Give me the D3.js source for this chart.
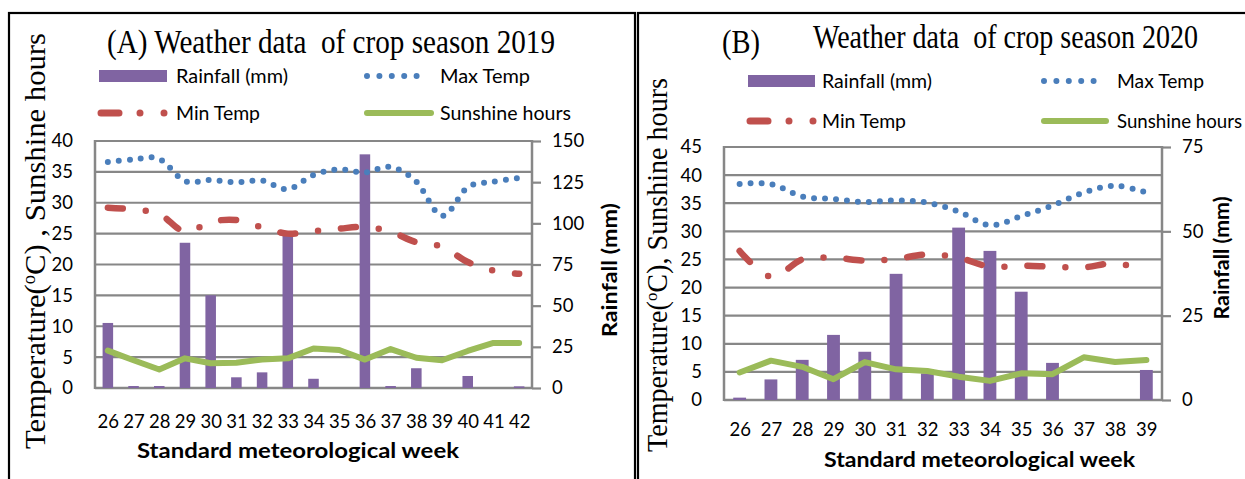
<!DOCTYPE html>
<html>
<head>
<meta charset="utf-8">
<script src="https://cdn.jsdelivr.net/npm/d3@7"></script>
<style>
  body { margin: 0; background: #fff; }
  svg { display: block; }
  text { white-space: pre; }
</style>
</head>
<body>
<script>
// ---- data ----
// (A) crop season 2019
var weeksA = [26, 27, 28, 29, 30, 31, 32, 33, 34, 35, 36, 37, 38, 39, 40, 41, 42];
var rainA  = [39.5, 1.2, 1.2, 88.2, 56.3, 6.5, 9.5, 92.9, 5.6, 0, 141.9, 1.2, 12.0, 0, 7.3, 0, 1.0];
var maxA   = [36.6, 37.0, 37.1, 33.5, 33.7, 33.3, 33.6, 32.2, 34.5, 35.4, 34.9, 35.8, 33.4, 27.9, 32.5, 33.4, 34.0];
var minA   = [29.2, 28.9, 28.2, 25.3, 26.9, 27.2, 26.0, 25.0, 25.4, 25.8, 26.1, 25.3, 23.6, 22.9, 20.4, 19.0, 18.5];
var sunA   = [6.05, 4.5, 3.0, 4.8, 4.0, 4.1, 4.6, 4.8, 6.4, 6.15, 4.6, 6.3, 4.9, 4.5, 6.0, 7.3, 7.3];
var tempTicksA = [0, 5, 10, 15, 20, 25, 30, 35, 40];
var rainTicksA = [0, 25, 50, 75, 100, 125, 150];

// (B) crop season 2020
var weeksB = [26, 27, 28, 29, 30, 31, 32, 33, 34, 35, 36, 37, 38, 39];
var rainB  = [0.7, 6.1, 11.9, 19.3, 14.3, 37.4, 7.9, 51.1, 44.2, 32.1, 11.0, 0, 0, 8.9];
var maxB   = [38.4, 38.4, 36.2, 35.75, 35.2, 35.5, 35.1, 33.5, 31.1, 32.7, 34.6, 36.9, 38.1, 36.9];
var minB   = [26.5, 21.9, 25.0, 25.3, 24.8, 25.1, 25.9, 25.3, 23.7, 23.9, 23.7, 23.6, 24.3, 23.0];
var sunB   = [4.9, 7.0, 5.9, 3.7, 6.75, 5.45, 5.15, 4.15, 3.4, 4.75, 4.6, 7.6, 6.75, 7.1];
var tempTicksB = [0, 5, 10, 15, 20, 25, 30, 35, 40, 45];
var rainTicksB = [0, 25, 50, 75];

var purple = "#8064a2", blue = "#4a7ebb", red = "#c0504d", green = "#9bbb59", grid = "#878787";
var sans = "Lato, 'Open Sans', sans-serif", serif = "'Liberation Serif', 'Times New Roman', serif";

var svg = d3.select("body").append("svg")
    .attr("width", 1245)
    .attr("height", 479);

svg.append("rect").attr("width", 1245).attr("height", 479).attr("fill", "#fff");

// frames around the two panels
svg.append("rect").attr("x", 9).attr("y", 13).attr("width", 626).attr("height", 490)
    .attr("fill", "none").attr("stroke", "#000").attr("stroke-width", 2.2);
svg.append("rect").attr("x", 638).attr("y", 13).attr("width", 630).attr("height", 490)
    .attr("fill", "none").attr("stroke", "#000").attr("stroke-width", 2.2);

var minDash = "15 23 0 23";

function drawPanel(p) {
  var g = svg.append("g");

  var x = d3.scalePoint().domain(p.weeks).range([p.left, p.right]).padding(0.5);
  var step = x.step();
  var yT = d3.scaleLinear().domain([0, p.tMax]).range([p.bottom, p.top]);
  var yR = d3.scaleLinear().domain([0, p.rMax]).range([p.bottom, p.top]);

  // horizontal gridlines (temperature axis)
  g.append("g").selectAll("line")
    .data(p.tTicks)
    .join("line")
      .attr("x1", p.left).attr("x2", p.right)
      .attr("y1", function(d) { return yT(d); })
      .attr("y2", function(d) { return yT(d); })
      .attr("stroke", grid).attr("stroke-width", 2.2);

  // left axis
  var ax = g.append("g")
      .attr("transform", "translate(" + p.left + ",0)")
      .call(d3.axisLeft(yT).tickValues(p.tTicks).tickSize(0).tickPadding(p.lPad));
  ax.select(".domain").remove();
  ax.selectAll("text").attr("font-family", sans).attr("font-size", 18.5).attr("fill", "#000");
  g.append("line").attr("x1", p.left).attr("x2", p.left).attr("y1", p.top - 1).attr("y2", p.bottom + 1)
      .attr("stroke", grid).attr("stroke-width", 2.5);

  // right axis (rainfall)
  var ar = g.append("g")
      .attr("transform", "translate(" + p.right + ",0)")
      .call(d3.axisRight(yR).tickValues(p.rTicks).tickSize(9).tickPadding(11));
  ar.select(".domain").remove();
  ar.selectAll("line").attr("stroke", grid).attr("stroke-width", 2.2);
  ar.selectAll("text").attr("font-family", sans).attr("font-size", 18.5).attr("fill", "#000");
  g.append("line").attr("x1", p.right).attr("x2", p.right).attr("y1", p.top - 1).attr("y2", p.bottom + 1)
      .attr("stroke", grid).attr("stroke-width", 2.5);

  // bottom axis labels
  var ab = g.append("g")
      .attr("transform", "translate(0," + p.bottom + ")")
      .call(d3.axisBottom(x).tickSize(0).tickPadding(p.bPad));
  ab.select(".domain").remove();
  ab.selectAll("text").attr("font-family", sans).attr("font-size", 18.5).attr("fill", "#000");
  g.append("line").attr("x1", p.left).attr("x2", p.right).attr("y1", p.bottom).attr("y2", p.bottom)
      .attr("stroke", grid).attr("stroke-width", 2.5);

  // rainfall bars
  var bw = step * 0.41;
  g.append("g").selectAll("rect")
    .data(p.weeks)
    .join("rect")
      .attr("x", function(d) { return x(d) - bw / 2; })
      .attr("width", bw)
      .attr("y", function(d, i) { return yR(p.rain[i]); })
      .attr("height", function(d, i) { return p.bottom - yR(p.rain[i]); })
      .attr("fill", purple);

  var smooth = d3.line()
      .x(function(d, i) { return x(p.weeks[i]); })
      .y(function(d) { return yT(d); })
      .curve(d3.curveCardinal.tension(0));
  var straight = d3.line()
      .x(function(d, i) { return x(p.weeks[i]); })
      .y(function(d) { return yT(d); });

  g.append("path").attr("d", straight(p.sun))
      .attr("fill", "none").attr("stroke", green).attr("stroke-width", 6)
      .attr("stroke-linejoin", "round").attr("stroke-linecap", "round");
  g.append("path").attr("d", smooth(p.min))
      .attr("fill", "none").attr("stroke", red).attr("stroke-width", 6.5)
      .attr("stroke-linecap", "round").attr("stroke-dasharray", minDash);
  g.append("path").attr("d", smooth(p.max))
      .attr("fill", "none").attr("stroke", blue).attr("stroke-width", 6)
      .attr("stroke-linecap", "round").attr("stroke-dasharray", "0 11");

  // legend
  var L = p.legend;
  g.append("rect").attr("x", L.c1).attr("y", L.r1 - 6).attr("width", L.w1).attr("height", 12).attr("fill", purple);
  g.append("line").attr("x1", L.c2 + 3).attr("x2", L.c2 + L.w2).attr("y1", L.r1).attr("y2", L.r1)
      .attr("stroke", blue).attr("stroke-width", 6).attr("stroke-linecap", "round").attr("stroke-dasharray", "0 12.4");
  g.append("line").attr("x1", L.c1 + 2).attr("x2", L.c1 + L.w1).attr("y1", L.r2).attr("y2", L.r2)
      .attr("stroke", red).attr("stroke-width", 7).attr("stroke-linecap", "round").attr("stroke-dasharray", "18 21 0 24 0 100");
  g.append("line").attr("x1", L.c2 + 3).attr("x2", L.c2 + L.w2 + 3).attr("y1", L.r2).attr("y2", L.r2)
      .attr("stroke", green).attr("stroke-width", 6).attr("stroke-linecap", "round");

  var lt = [
    {t: "Rainfall (mm)", x: L.t1, y: L.r1, len: L.lens[0]},
    {t: "Max Temp", x: L.t2, y: L.r1, len: L.lens[1]},
    {t: "Min Temp", x: L.t1, y: L.r2, len: L.lens[2]},
    {t: "Sunshine hours", x: L.t2, y: L.r2, len: L.lens[3]}
  ];
  g.append("g").selectAll("text")
    .data(lt)
    .join("text")
      .attr("x", function(d) { return d.x; })
      .attr("y", function(d) { return d.y; })
      .attr("dy", "0.36em")
      .attr("font-family", sans).attr("font-size", 19.5)
      .attr("textLength", function(d) { return d.len; })
      .attr("lengthAdjust", "spacingAndGlyphs")
      .text(function(d) { return d.t; });

  // axis titles
  g.append("text")
      .attr("x", p.xt.x).attr("y", p.xt.y)
      .attr("font-family", sans).attr("font-size", 21).attr("font-weight", "bold")
      .attr("textLength", p.xt.len).attr("lengthAdjust", "spacingAndGlyphs")
      .text("Standard meteorological week");

  g.append("text")
      .attr("transform", "translate(" + p.rt.x + "," + p.rt.y + ") rotate(-90)")
      .attr("text-anchor", "middle")
      .attr("font-family", sans).attr("font-size", 20).attr("font-weight", "bold")
      .attr("textLength", p.rt.len).attr("lengthAdjust", "spacingAndGlyphs")
      .text("Rainfall (mm)");

  var yt = g.append("text")
      .attr("transform", "translate(" + p.yt.x + "," + p.yt.y + ") rotate(-90)")
      .attr("text-anchor", "middle")
      .attr("font-family", serif).attr("font-size", p.yt.size)
      .attr("textLength", p.yt.len).attr("lengthAdjust", "spacingAndGlyphs");
  yt.append("tspan").text("Temperature(");
  yt.append("tspan").attr("font-size", p.yt.size * 0.6).attr("dy", -p.yt.size * 0.35).text("o");
  yt.append("tspan").attr("dy", p.yt.size * 0.35).text(p.yt.rest);
}

drawPanel({
  weeks: weeksA, rain: rainA, max: maxA, min: minA, sun: sunA,
  tTicks: tempTicksA, rTicks: rainTicksA, tMax: 40, rMax: 150,
  left: 95, right: 532, top: 141, bottom: 388,
  lPad: 22, bPad: 27,
  legend: {c1: 99, w1: 68, t1: 176, c2: 364, w2: 64, t2: 440, r1: 76, r2: 113, lens: [112, 90, 84, 131]},
  xt: {x: 137, y: 458, len: 322},
  rt: {x: 617, y: 270, len: 134},
  yt: {x: 45, y: 241, size: 30, len: 416, rest: "C) , Sunshine hours"}
});

drawPanel({
  weeks: weeksB, rain: rainB, max: maxB, min: minB, sun: sunB,
  tTicks: tempTicksB, rTicks: rainTicksB, tMax: 45, rMax: 75,
  left: 724, right: 1162, top: 147, bottom: 400,
  lPad: 22, bPad: 23,
  legend: {c1: 748, w1: 67, t1: 822, c2: 1041, w2: 62, t2: 1117, r1: 81, r2: 121, lens: [110, 87, 84, 125]},
  xt: {x: 824, y: 467, len: 311},
  rt: {x: 1229, y: 258, len: 123},
  yt: {x: 667, y: 265, size: 29, len: 374, rest: "C), Sunshine hours"}
});

// panel titles
svg.append("text")
    .attr("x", 107).attr("y", 53)
    .attr("font-family", serif).attr("font-size", 34)
    .attr("textLength", 448).attr("lengthAdjust", "spacingAndGlyphs")
    .text("(A) Weather data  of crop season 2019");
svg.append("text")
    .attr("x", 722).attr("y", 53)
    .attr("font-family", serif).attr("font-size", 33)
    .attr("textLength", 38).attr("lengthAdjust", "spacingAndGlyphs")
    .text("(B)");
svg.append("text")
    .attr("x", 813).attr("y", 48)
    .attr("font-family", serif).attr("font-size", 33)
    .attr("textLength", 385).attr("lengthAdjust", "spacingAndGlyphs")
    .text("Weather data  of crop season 2020");
</script>
</body>
</html>
